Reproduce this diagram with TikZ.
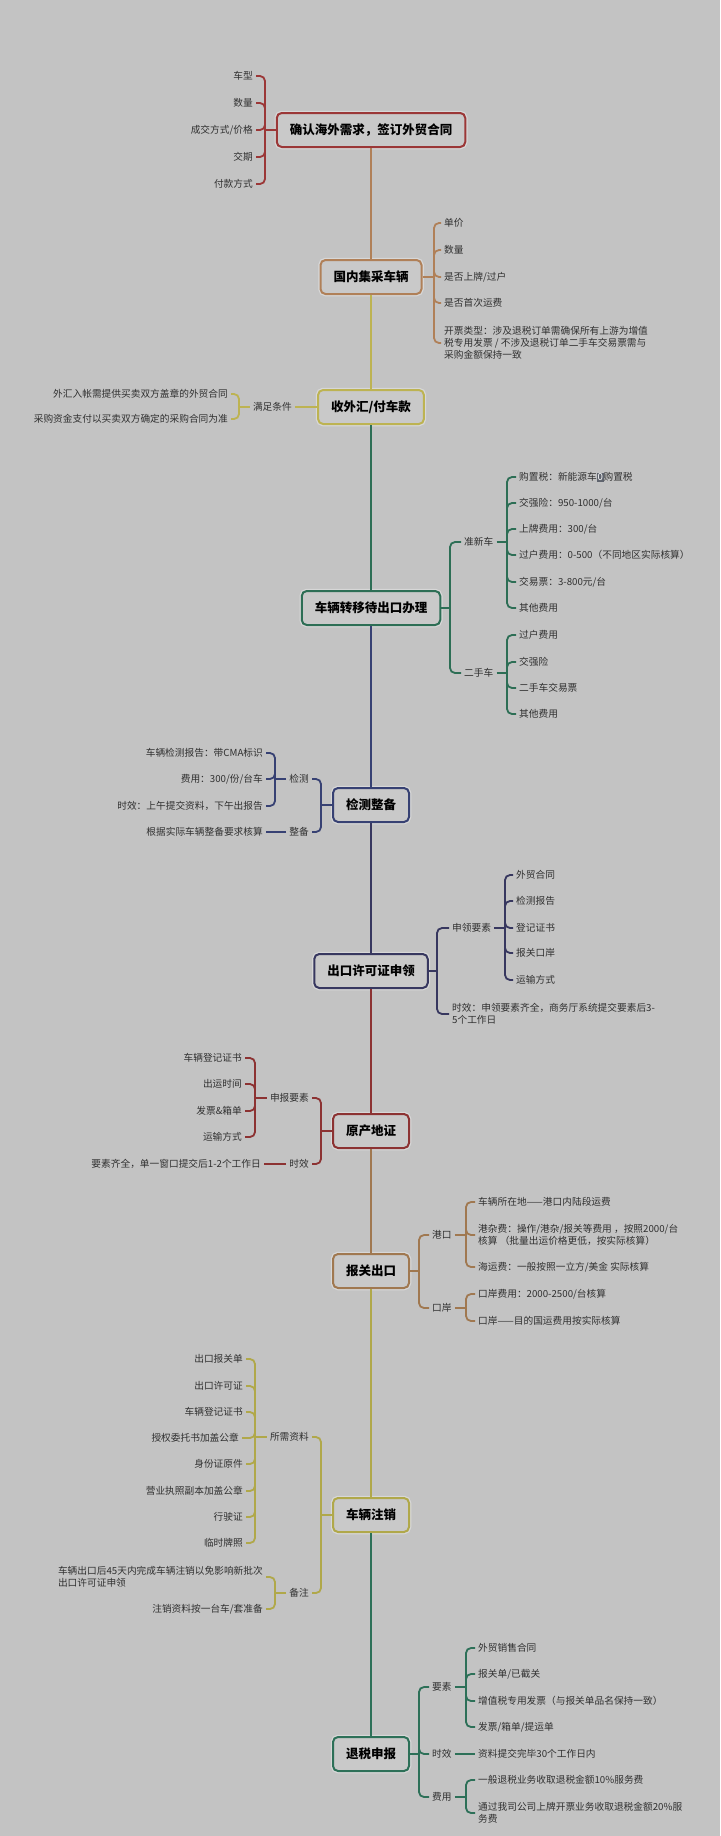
\documentclass[tikz,border=0pt]{standalone}
\usepackage{fontspec}
\setmainfont{Noto Sans CJK SC}
\definecolor{bgc}{RGB}{195,195,195}
\definecolor{boxfill}{RGB}{201,201,201}
\definecolor{txt}{RGB}{48,48,48}
\definecolor{zerobox}{RGB}{95,100,110}
\definecolor{c1}{RGB}{155,55,55}
\definecolor{c2}{RGB}{176,128,88}
\definecolor{c3}{RGB}{189,179,82}
\definecolor{c4}{RGB}{45,110,85}
\definecolor{c5}{RGB}{55,65,115}
\definecolor{c6}{RGB}{55,55,95}
\definecolor{c7}{RGB}{140,50,50}
\definecolor{c8}{RGB}{160,120,80}
\definecolor{c9}{RGB}{176,168,74}
\definecolor{c10}{RGB}{45,112,88}
\begin{document}
\begin{tikzpicture}[x=1pt,y=-1pt,
  mainbox/.style={draw, line width=2pt, rounded corners=5pt, fill=boxfill,
    preaction={draw=white, line width=4.5pt, opacity=0.35},
    minimum height=34pt, inner xsep=13pt, inner ysep=2pt,
    font=\fontsize{12.5}{14}\selectfont\bfseries, text=black},
  lf/.style={inner xsep=3pt, inner ysep=1pt, font=\fontsize{9.7}{12.3}\selectfont, text=txt},
  lr/.style={lf, anchor=west, align=left},
  ll/.style={lf, anchor=east, align=right},
  lb/.style={lf, anchor=east, align=left},
  br/.style={line width=1.8pt, rounded corners=5pt},
  spine/.style={line width=2.4pt}]
\fill[bgc] (0,0) rectangle (720,1836);
\useasboundingbox (0,0) rectangle (720,1836);

% ---------- main nodes ----------
\node[mainbox, draw=c1] (n1) at (371,130) {确认海外需求，签订外贸合同};
\node[mainbox, draw=c2] (n2) at (371,277) {国内集采车辆};
\node[mainbox, draw=c3] (n3) at (371,407) {收外汇/付车款};
\node[mainbox, draw=c4] (n4) at (371,608) {车辆转移待出口办理};
\node[mainbox, draw=c5] (n5) at (371,805) {检测整备};
\node[mainbox, draw=c6] (n6) at (371,971) {出口许可证申领};
\node[mainbox, draw=c7] (n7) at (371,1131) {原产地证};
\node[mainbox, draw=c8] (n8) at (371,1271) {报关出口};
\node[mainbox, draw=c9] (n9) at (371,1515) {车辆注销};
\node[mainbox, draw=c10] (n10) at (371,1754) {退税申报};

% ---------- spine ----------
\draw[spine, c2] (n1.south) -- (n2.north);
\draw[spine, c3] (n2.south) -- (n3.north);
\draw[spine, c4] (n3.south) -- (n4.north);
\draw[spine, c5] (n4.south) -- (n5.north);
\draw[spine, c6] (n5.south) -- (n6.north);
\draw[spine, c7] (n6.south) -- (n7.north);
\draw[spine, c8] (n7.south) -- (n8.north);
\draw[spine, c9] (n8.south) -- (n9.north);
\draw[spine, c10] (n9.south) -- (n10.north);

% ---------- node 1 ----------
\coordinate (b1) at (265,130);
\node[ll] (a11) at (256,76) {车型};
\node[ll] (a12) at (256,103) {数量};
\node[ll] (a13) at (256,130) {成交方式/价格};
\node[ll] (a14) at (256,157) {交期};
\node[ll] (a15) at (256,184) {付款方式};
\draw[br, c1] (n1.west) -- (b1);
\foreach \i in {a11,a12,a13,a14,a15} \draw[br, c1] (b1) |- (\i.east);

% ---------- node 2 ----------
\coordinate (b2) at (434,277);
\node[lr] (a21) at (441,223) {单价};
\node[lr] (a22) at (441,250) {数量};
\node[lr] (a23) at (441,277) {是否上牌/过户};
\node[lr] (a24) at (441,303) {是否首次运费};
\node[lr] (a25) at (441,343) {开票类型：涉及退税订单需确保所有上游为增值\\税专用发票 / 不涉及退税订单二手车交易票需与\\采购金额保持一致};
\draw[br, c2] (n2.east) -- (b2);
\foreach \i in {a21,a22,a23,a24,a25} \draw[br, c2] (b2) |- (\i.west);

% ---------- node 3 ----------
\node[ll] (l3) at (295,407) {满足条件};
\coordinate (b3) at (239,407);
\node[ll] (a31) at (231,394) {外汇入帐需提供买卖双方盖章的外贸合同};
\node[ll] (a32) at (231,419) {采购资金支付以买卖双方确定的采购合同为准};
\draw[br, c3] (n3.west) -- (l3.east);
\draw[br, c3] (l3.west) -- (b3);
\foreach \i in {a31,a32} \draw[br, c3] (b3) |- (\i.east);

% ---------- node 4 ----------
\coordinate (b4) at (450,608);
\node[lr] (l41) at (461,542) {准新车};
\node[lr] (l42) at (461,673) {二手车};
\draw[br, c4] (n4.east) -- (b4);
\foreach \i in {l41,l42} \draw[br, c4] (b4) |- (\i.west);
\coordinate (b41) at (507,542);
\coordinate (b42) at (507,673);
\node[lr] (a411) at (516,477) {购置税：新能源车{\setlength{\fboxsep}{0.7pt}\colorbox{zerobox}{\textcolor{white}{0}}}购置税};
\node[lr] (a412) at (516,503) {交强险：950-1000/台};
\node[lr] (a413) at (516,529) {上牌费用：300/台};
\node[lr] (a414) at (516,555) {过户费用：0-500（不同地区实际核算）};
\node[lr] (a415) at (516,582) {交易票：3-800元/台};
\node[lr] (a416) at (516,608) {其他费用};
\node[lr] (a421) at (516,635) {过户费用};
\node[lr] (a422) at (516,662) {交强险};
\node[lr] (a423) at (516,688) {二手车交易票};
\node[lr] (a424) at (516,714) {其他费用};
\draw[br, c4] (l41.east) -- (b41);
\draw[br, c4] (l42.east) -- (b42);
\foreach \i in {a411,a412,a413,a414,a415,a416} \draw[br, c4] (b41) |- (\i.west);
\foreach \i in {a421,a422,a423,a424} \draw[br, c4] (b42) |- (\i.west);

% ---------- node 5 ----------
\coordinate (b5) at (321,805);
\node[ll] (l51) at (312,779) {检测};
\node[ll] (l52) at (312,832) {整备};
\draw[br, c5] (n5.west) -- (b5);
\foreach \i in {l51,l52} \draw[br, c5] (b5) |- (\i.east);
\coordinate (b51) at (275,779);
\node[ll] (a511) at (266,753) {车辆检测报告：带CMA标识};
\node[ll] (a512) at (266,779) {费用：300/份/台车};
\node[ll] (a513) at (266,806) {时效：上午提交资料，下午出报告};
\node[ll] (a521) at (266,832) {根据实际车辆整备要求核算};
\draw[br, c5] (l51.west) -- (b51);
\foreach \i in {a511,a512,a513} \draw[br, c5] (b51) |- (\i.east);
\draw[br, c5] (l52.west) -- (a521.east);

% ---------- node 6 ----------
\coordinate (b6) at (437,971);
\node[lr] (l61) at (449,928) {申领要素};
\node[lr] (l62) at (449,1014) {时效：申领要素齐全，商务厅系统提交要素后3-\\5个工作日};
\draw[br, c6] (n6.east) -- (b6);
\foreach \i in {l61,l62} \draw[br, c6] (b6) |- (\i.west);
\coordinate (b61) at (505,928);
\node[lr] (a611) at (513,875) {外贸合同};
\node[lr] (a612) at (513,901) {检测报告};
\node[lr] (a613) at (513,928) {登记证书};
\node[lr] (a614) at (513,953) {报关口岸};
\node[lr] (a615) at (513,980) {运输方式};
\draw[br, c6] (l61.east) -- (b61);
\foreach \i in {a611,a612,a613,a614,a615} \draw[br, c6] (b61) |- (\i.west);

% ---------- node 7 ----------
\coordinate (b7) at (321,1131);
\node[ll] (l71) at (312,1098) {申报要素};
\node[ll] (l72) at (312,1164) {时效};
\draw[br, c7] (n7.west) -- (b7);
\foreach \i in {l71,l72} \draw[br, c7] (b7) |- (\i.east);
\coordinate (b71) at (255,1098);
\node[ll] (a711) at (245,1058) {车辆登记证书};
\node[ll] (a712) at (245,1084) {出运时间};
\node[ll] (a713) at (245,1111) {发票\&箱单};
\node[ll] (a714) at (245,1137) {运输方式};
\node[ll] (a721) at (264,1164) {要素齐全，单一窗口提交后1-2个工作日};
\draw[br, c7] (l71.west) -- (b71);
\foreach \i in {a711,a712,a713,a714} \draw[br, c7] (b71) |- (\i.east);
\draw[br, c7] (l72.west) -- (a721.east);

% ---------- node 8 ----------
\coordinate (b8) at (419,1271);
\node[lr] (l81) at (429,1235) {港口};
\node[lr] (l82) at (429,1308) {口岸};
\draw[br, c8] (n8.east) -- (b8);
\foreach \i in {l81,l82} \draw[br, c8] (b8) |- (\i.west);
\coordinate (b81) at (466,1235);
\coordinate (b82) at (466,1308);
\node[lr] (a811) at (475,1202) {车辆所在地——港口内陆段运费};
\node[lr] (a812) at (475,1235) {港杂费：操作/港杂/报关等费用 ，按照2000/台\\核算 （批量出运价格更低，按实际核算）};
\node[lr] (a813) at (475,1267) {海运费：一般按照一立方/美金 实际核算};
\node[lr] (a821) at (475,1294) {口岸费用：2000-2500/台核算};
\node[lr] (a822) at (475,1321) {口岸——目的国运费用按实际核算};
\draw[br, c8] (l81.east) -- (b81);
\draw[br, c8] (l82.east) -- (b82);
\foreach \i in {a811,a812,a813} \draw[br, c8] (b81) |- (\i.west);
\foreach \i in {a821,a822} \draw[br, c8] (b82) |- (\i.west);

% ---------- node 9 ----------
\coordinate (b9) at (321,1515);
\node[ll] (l91) at (312,1437) {所需资料};
\node[ll] (l92) at (312,1593) {备注};
\draw[br, c9] (n9.west) -- (b9);
\foreach \i in {l91,l92} \draw[br, c9] (b9) |- (\i.east);
\coordinate (b91) at (255,1437);
\node[ll] (a911) at (246,1359) {出口报关单};
\node[ll] (a912) at (246,1386) {出口许可证};
\node[ll] (a913) at (246,1412) {车辆登记证书};
\node[ll] (a914) at (242,1438) {授权委托书加盖公章};
\node[ll] (a915) at (246,1464) {身份证原件};
\node[ll] (a916) at (246,1491) {营业执照副本加盖公章};
\node[ll] (a917) at (246,1517) {行驶证};
\node[ll] (a918) at (246,1543) {临时牌照};
\draw[br, c9] (l91.west) -- (b91);
\foreach \i in {a911,a912,a913,a914,a915,a916,a917,a918} \draw[br, c9] (b91) |- (\i.east);
\coordinate (b92) at (275,1593);
\node[lb] (a921) at (266,1577) {车辆出口后45天内完成车辆注销以免影响新批次\\出口许可证申领};
\node[ll] (a922) at (266,1609) {注销资料按一台车/套准备};
\draw[br, c9] (l92.west) -- (b92);
\foreach \i in {a921,a922} \draw[br, c9] (b92) |- (\i.east);

% ---------- node 10 ----------
\coordinate (b10) at (419,1754);
\node[lr] (l101) at (429,1687) {要素};
\node[lr] (l102) at (429,1754) {时效};
\node[lr] (l103) at (429,1797) {费用};
\draw[br, c10] (n10.east) -- (b10);
\foreach \i in {l101,l102,l103} \draw[br, c10] (b10) |- (\i.west);
\coordinate (b101) at (466,1687);
\coordinate (b103) at (466,1797);
\node[lr] (a1011) at (475,1648) {外贸销售合同};
\node[lr] (a1012) at (475,1674) {报关单/已截关};
\node[lr] (a1013) at (475,1701) {增值税专用发票（与报关单品名保持一致）};
\node[lr] (a1014) at (475,1727) {发票/箱单/提运单};
\node[lr] (a1021) at (475,1754) {资料提交完毕30个工作日内};
\node[lr] (a1031) at (475,1780) {一般退税业务收取退税金额10\%服务费};
\node[lr] (a1032) at (475,1813) {通过我司公司上牌开票业务收取退税金额20\%服\\务费};
\draw[br, c10] (l101.east) -- (b101);
\foreach \i in {a1011,a1012,a1013,a1014} \draw[br, c10] (b101) |- (\i.west);
\draw[br, c10] (l102.east) -- (a1021.west);
\draw[br, c10] (l103.east) -- (b103);
\foreach \i in {a1031,a1032} \draw[br, c10] (b103) |- (\i.west);
\end{tikzpicture}
\end{document}
